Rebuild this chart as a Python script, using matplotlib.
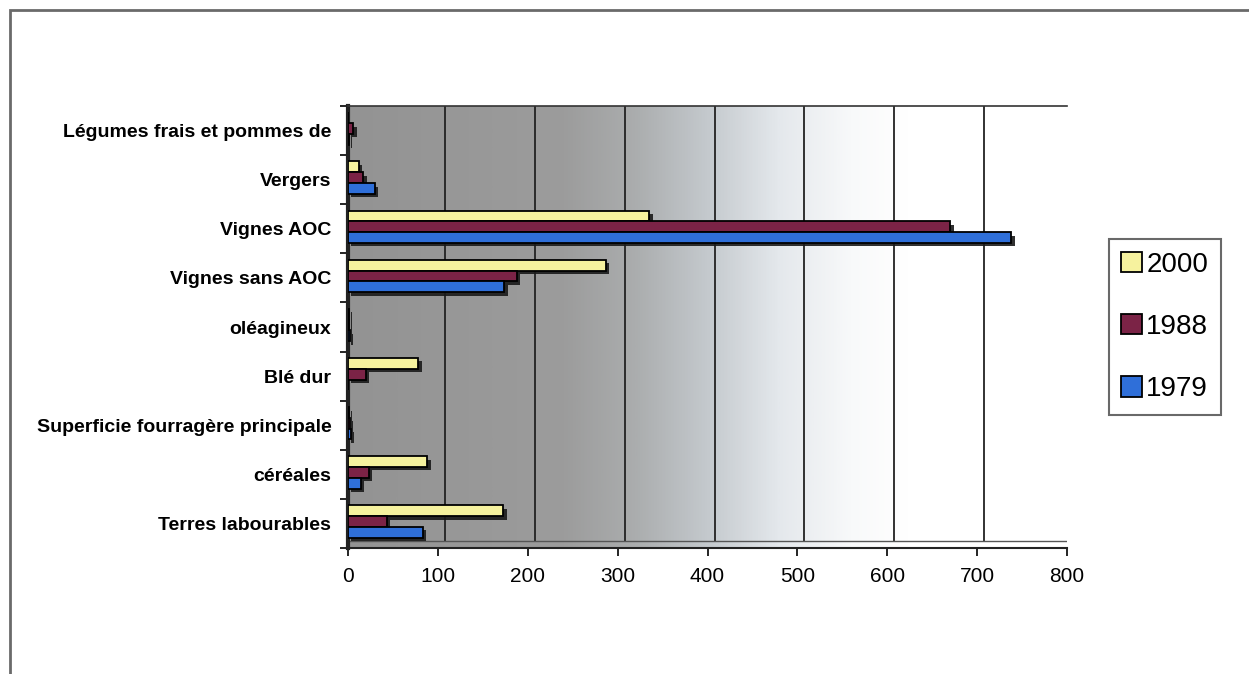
import numpy as np
import matplotlib.pyplot as plt
import matplotlib.patheffects as pe
from matplotlib.colors import LinearSegmentedColormap
from matplotlib.patches import Rectangle
import matplotlib.transforms as mtransforms

plt.rcParams['font.family'] = ['Liberation Sans', 'DejaVu Sans']

# categories from bottom to top
categories = ['Terres labourables', 'céréales', 'Superficie fourragère principale',
              'Blé dur', 'oléagineux', 'Vignes sans AOC', 'Vignes AOC', 'Vergers',
              'Légumes frais et pommes de']
series_names = ['2000', '1988', '1979']
v2000 = [173, 88, 1, 78, 1, 287, 335, 12, 0]
v1988 = [43, 23, 2, 20, 1, 188, 670, 17, 6]
v1979 = [83, 14, 3, 0, 2, 174, 738, 30, 1]
xticks = [0, 100, 200, 300, 400, 500, 600, 700, 800]

colors = ['#f6f29e', '#7b2346', '#2f6fd9']
offsets = [0.26, 0.04, -0.18]

fig = plt.figure(figsize=(12.49, 6.74), dpi=100)
ax = fig.add_axes([348 / 1249, 1 - 548 / 674, (1067 - 348) / 1249, (548 - 106) / 674])

# outer frame (only top and left visible)
fig.add_artist(Rectangle((10 / 1249, -0.1), 1.2, 1 - 10 / 674 + 0.1,
                         transform=fig.transFigure, fill=False,
                         edgecolor='#6a6a6a', lw=2))

# gradient wall
cmap = LinearSegmentedColormap.from_list('wall', [
    (0.0, '#939393'), (0.3, '#9c9c9c'), (0.4, '#abadae'), (0.5, '#c4c9cd'),
    (0.6, '#e4e8ec'), (0.7, '#f8f9fa'), (0.78, '#ffffff'), (1.0, '#ffffff')])
grad = np.linspace(0, 1, 512).reshape(1, -1)
ax.imshow(grad, cmap=cmap, aspect='auto', extent=[0, 800, -0.5, len(categories) - 0.5],
          zorder=0)

# gridlines on the back wall, shifted a little for the 3D look
shift = mtransforms.offset_copy(ax.transData, fig=fig, x=7, y=0, units='dots')
for t in xticks[1:]:
    ax.plot([t, t], [-0.5 + 0.15, len(categories) - 0.5], color='#222222', lw=1.3,
            transform=shift, zorder=1)
ax.axhline(-0.5 + 0.15, color='#555555', lw=1, zorder=1)

y = np.arange(len(categories))
shadow = [pe.SimplePatchShadow(offset=(2.5, -2.5), shadow_rgbFace='#1a1a1a', alpha=0.9),
          pe.Normal()]
for vals, c, off, name in zip([v2000, v1988, v1979], colors, offsets, series_names):
    bars = ax.barh(y + off, vals, height=0.22, color=c, edgecolor='black', lw=1.3,
                   label=name, zorder=3)
    for b in bars:
        b.set_path_effects(shadow)

ax.set_xlim(0, 800)
ax.set_ylim(-0.5, len(categories) - 0.5)
ax.set_xticks(xticks)
ax.set_xticklabels([str(t) for t in xticks], fontsize=15)
ax.set_yticks(y)
ax.set_yticklabels(categories, fontsize=14, fontweight='bold')
ax.set_yticks(np.arange(-0.5, len(categories), 1), minor=True)
ax.tick_params(axis='y', which='major', length=0, pad=12)
ax.tick_params(axis='y', which='minor', length=6, width=1.2, direction='out')
ax.tick_params(axis='x', length=6, width=1.2, direction='out', pad=8)

ax.spines['top'].set_color('#333333')
ax.spines['top'].set_linewidth(1.2)
ax.spines['right'].set_visible(False)
ax.spines['left'].set_color('#222222')
ax.spines['left'].set_linewidth(3)
ax.spines['bottom'].set_color('#222222')
ax.spines['bottom'].set_linewidth(1.5)

leg = ax.legend(loc='center left', bbox_to_anchor=(1.058, 0.5), fontsize=20,
                frameon=True, fancybox=False, edgecolor='#444444', handlelength=0.75,
                handleheight=0.75, handletextpad=0.15, labelspacing=1.3,
                borderpad=0.45, borderaxespad=0)
leg.get_frame().set_linewidth(1.5)
for h in leg.legend_handles:
    h.set_path_effects([])

fig.savefig('out.png', dpi=100)
